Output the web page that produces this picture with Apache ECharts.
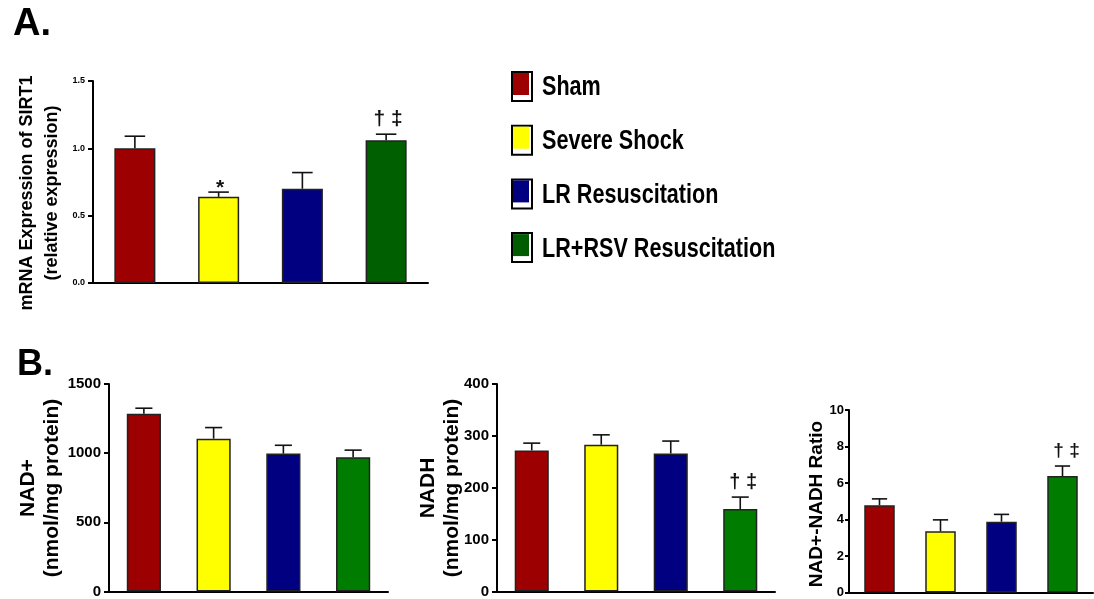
<!DOCTYPE html>
<html>
<head>
<meta charset="utf-8">
<script src="https://cdn.jsdelivr.net/npm/echarts@6/dist/echarts.min.js"></script>
<style>
  html, body { margin: 0; padding: 0; background: #ffffff; }
  #chart { width: 1094px; height: 599px; }
</style>
</head>
<body>
<div id="chart"></div>
<script>
// Treatment groups (same order in every panel)
const groups = ['Sham', 'Severe Shock', 'LR Resuscitation', 'LR+RSV Resuscitation'];

// A. SIRT1 mRNA expression (relative), mean and SEM
const sirt1Mean = [1.00, 0.64, 0.70, 1.06];
const sirt1Sem = [0.09, 0.035, 0.12, 0.045];
const sirt1Marks = ['', '*', '', '\u2020 \u2021'];
const sirt1Ticks = [0, 0.5, 1.0, 1.5];

// B. NAD+ (nmol/mg protein)
const nadMean = [1285, 1105, 997, 970];
const nadSem = [40, 80, 60, 52];
const nadMarks = ['', '', '', ''];
const nadTicks = [0, 500, 1000, 1500];

// B. NADH (nmol/mg protein)
const nadhMean = [272, 283, 266, 159];
const nadhSem = [14, 19, 24, 23];
const nadhMarks = ['', '', '', '\u2020 \u2021'];
const nadhTicks = [0, 100, 200, 300, 400];

// B. NAD+/NADH ratio
const ratioMean = [4.78, 3.35, 3.88, 6.38];
const ratioSem = [0.35, 0.63, 0.40, 0.55];
const ratioMarks = ['', '', '', '\u2020 \u2021'];
const ratioTicks = [0, 2, 4, 6, 8, 10];

const BOLD = 'bold';
const SANS = '"Liberation Sans", Arial, sans-serif';

const colorsA = ['#9c0000', '#ffff00', '#000080', '#005f00'];
const colorsB = ['#9c0000', '#ffff00', '#000080', '#007d00'];
const legendColors = ['#9c0000', '#ffff00', '#000080', '#005c00'];

const panels = [
  { mean: sirt1Mean, sem: sirt1Sem, marks: sirt1Marks, ticks: sirt1Ticks, colors: colorsA,
    grid: { left: 93, top: 81, width: 335, height: 202 }, barFrac: 0.49,
    tickFont: 9, tickLen: 5, tickMargin: 8, tickFmt: v => v.toFixed(1), markFont: 21, markDx: 2 },
  { mean: nadMean, sem: nadSem, marks: nadMarks, ticks: nadTicks, colors: colorsB,
    grid: { left: 109, top: 384, width: 279, height: 208 }, barFrac: 0.49,
    tickFont: 15, tickLen: 5, tickMargin: 8, tickFmt: v => String(v), markFont: 20, markDx: 2 },
  { mean: nadhMean, sem: nadhSem, marks: nadhMarks, ticks: nadhTicks, colors: colorsB,
    grid: { left: 497, top: 384, width: 278, height: 208 }, barFrac: 0.49,
    tickFont: 15, tickLen: 5, tickMargin: 8, tickFmt: v => String(v), markFont: 20, markDx: 3 },
  { mean: ratioMean, sem: ratioSem, marks: ratioMarks, ticks: ratioTicks, colors: colorsB,
    grid: { left: 849, top: 410, width: 244, height: 183 }, barFrac: 0.5,
    tickFont: 13, tickLen: 4, tickMargin: 5, tickFmt: v => String(v), markFont: 19, markDx: 4 }
];

const grids = [], xAxes = [], yAxes = [], series = [];

panels.forEach((p, pi) => {
  grids.push(Object.assign({ containLabel: false }, p.grid));
  xAxes.push({
    type: 'category', gridIndex: pi, data: groups,
    axisLine: { lineStyle: { color: '#000', width: 2 } },
    axisTick: { show: false }, axisLabel: { show: false }, splitLine: { show: false }
  });
  const t = p.ticks;
  yAxes.push({
    type: 'value', gridIndex: pi,
    min: t[0], max: t[t.length - 1], interval: t[1] - t[0],
    axisLine: { show: true, lineStyle: { color: '#000', width: 2 } },
    axisTick: { show: true, length: p.tickLen, lineStyle: { color: '#000', width: 2 } },
    axisLabel: { margin: p.tickMargin, color: '#000', fontWeight: BOLD, fontFamily: SANS,
                 fontSize: p.tickFont, formatter: p.tickFmt },
    splitLine: { show: false }
  });
  // one bar series per group, overlapped so each sits centred in its own category
  groups.forEach((g, gi) => {
    series.push({
      type: 'bar', name: g, xAxisIndex: pi, yAxisIndex: pi,
      barWidth: (p.barFrac * 100) + '%', barGap: '-100%',
      data: p.mean.map((v, i) => (i === gi ? v : '-')),
      itemStyle: { color: p.colors[gi], borderColor: '#222', borderWidth: 1.5 },
      emphasis: { disabled: true },
      z: 2
    });
  });
  // upper SEM whiskers with significance marks
  series.push({
    type: 'custom', xAxisIndex: pi, yAxisIndex: pi, z: 3,
    encode: { x: 0, y: 1 },
    data: p.mean.map((v, i) => [i, v, p.sem[i]]),
    renderItem: function (params, api) {
      const i = api.value(0), m = api.value(1), e = api.value(2);
      const base = api.coord([i, m]);
      const top = api.coord([i, m + e]);
      const cap = api.size([1, 0])[0] * p.barFrac / 4;
      const stroke = { stroke: '#111', lineWidth: 1.6 };
      const children = [
        { type: 'line', shape: { x1: base[0], y1: base[1], x2: top[0], y2: top[1] }, style: stroke },
        { type: 'line', shape: { x1: top[0] - cap, y1: top[1], x2: top[0] + cap, y2: top[1] }, style: stroke }
      ];
      const mark = p.marks[params.dataIndex];
      if (mark) {
        const star = mark === '*';
        children.push({
          type: 'text', x: top[0] + (star ? 1.5 : p.markDx), y: top[1] - (star ? 4 : 15),
          style: { text: mark, align: 'center', verticalAlign: 'middle',
                   font: 'bold ' + p.markFont + 'px ' + SANS, fill: '#111' }
        });
      }
      return { type: 'group', children: children };
    }
  });
});

// Legend: framed swatch plus condensed bold label for each group
const legendItems = [];
groups.forEach((g, i) => {
  const y0 = 71 + i * 53.7;
  legendItems.push(
    { type: 'rect', shape: { x: 512, y: y0 + 1, width: 20, height: 29 },
      style: { fill: '#ffffff', stroke: '#000', lineWidth: 2 } },
    { type: 'rect', shape: { x: 513, y: y0 + 2, width: 16, height: 22 },
      style: { fill: legendColors[i] } },
    { type: 'text', x: 542, y: y0 + 17, scaleX: 0.8,
      style: { text: g, font: 'bold 27px ' + SANS, fill: '#000',
               align: 'left', verticalAlign: 'middle' } }
  );
});

const option = {
  animation: false,
  backgroundColor: '#ffffff',
  grid: grids,
  xAxis: xAxes,
  yAxis: yAxes,
  series: series,
  graphic: [
    { type: 'text', left: 13, top: 6,
      style: { text: 'A.', font: 'bold 38px ' + SANS, fill: '#000' } },
    { type: 'text', left: 17, top: 347,
      style: { text: 'B.', font: 'bold 36px ' + SANS, fill: '#000' } },
    { type: 'text', x: 40, y: 193, rotation: Math.PI / 2,
      style: { text: 'mRNA Expression of SIRT1\n(relative expression)', align: 'center',
               verticalAlign: 'middle', font: 'bold 18px ' + SANS, lineHeight: 25, fill: '#000' } },
    { type: 'text', x: 40, y: 488, rotation: Math.PI / 2,
      style: { text: 'NAD+\n(nmol/mg protein)', align: 'center',
               verticalAlign: 'middle', font: 'bold 21px ' + SANS, lineHeight: 24, fill: '#000' } },
    { type: 'text', x: 440, y: 488, rotation: Math.PI / 2,
      style: { text: 'NADH\n(nmol/mg protein)', align: 'center',
               verticalAlign: 'middle', font: 'bold 21px ' + SANS, lineHeight: 24, fill: '#000' } },
    { type: 'text', x: 817, y: 504, rotation: Math.PI / 2,
      style: { text: 'NAD+-NADH Ratio', align: 'center',
               verticalAlign: 'middle', font: 'bold 19px ' + SANS, fill: '#000' } }
  ].concat(legendItems)
};

const chart = echarts.init(document.getElementById('chart'), null, { renderer: 'canvas' });
chart.setOption(option);
</script>
</body>
</html>
